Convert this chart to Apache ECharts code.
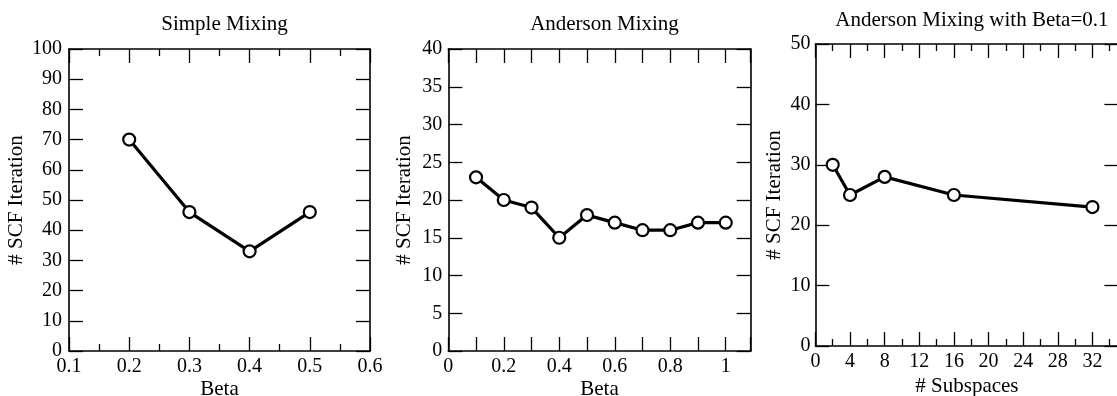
<!DOCTYPE html>
<html>
<head>
<meta charset="utf-8">
<script src="https://cdn.jsdelivr.net/npm/echarts@6/dist/echarts.min.js"></script>
<style>
  html, body { margin: 0; padding: 0; background: #fff; }
  #chart { width: 1117px; height: 396px; }
</style>
</head>
<body>
<div id="chart"></div>
<script>
// Panel titles
const panelTitles = ['Simple Mixing', 'Anderson Mixing', 'Anderson Mixing with Beta=0.1'];

// Simple mixing: iterations vs beta
const simpleBeta = [0.2, 0.3, 0.4, 0.5];
const simpleIter = [70, 46, 33, 46];

// Anderson mixing: iterations vs beta
const andersonBeta = [0.1, 0.2, 0.3, 0.4, 0.5, 0.6, 0.7, 0.8, 0.9, 1.0];
const andersonIter = [23, 20, 19, 15, 18, 17, 16, 16, 17, 17];

// Anderson mixing at beta 0.1: iterations vs number of subspaces
const subspaces = [2, 4, 8, 16, 32];
const subspaceIter = [30, 25, 28, 25, 23];

// Tick labels shown on the x axes
const simpleXLabels = ['0.1', '0.2', '0.3', '0.4', '0.5', '0.6'];
const andersonXLabels = ['0', '0.2', '0.4', '0.6', '0.8', '1'];
const subspaceXLabels = ['0', '4', '8', '12', '16', '20', '24', '28', '32'];

const FONT = 'Liberation Serif';
const INK = '#000';

function labelFrom(list) {
  return function (v) {
    const s = String(Number(v.toFixed(2)));
    return list.indexOf(s) >= 0 ? s : '';
  };
}

function xAxisPair(gridIndex, min, max, interval, minorSplit, labels, name, nameGap) {
  const tick = { show: true, inside: true, length: 14, lineStyle: { color: INK, width: 1.3 } };
  const minor = minorSplit
    ? { show: true, splitNumber: minorSplit, length: 7, lineStyle: { color: INK, width: 1.3 } }
    : { show: false };
  const common = {
    type: 'value', gridIndex, min, max, interval,
    axisLine: { show: true, onZero: false, lineStyle: { color: INK, width: 1.6 } },
    axisTick: tick, minorTick: minor, splitLine: { show: false }, minorSplitLine: { show: false }
  };
  return [
    Object.assign({}, common, {
      position: 'bottom',
      name, nameLocation: 'middle', nameGap, nameMoveOverlap: false,
      nameTextStyle: { fontFamily: FONT, fontSize: 21, color: INK },
      axisLabel: {
        show: true, margin: 6, fontFamily: FONT, fontSize: 20, color: INK,
        showMaxLabel: true, showMinLabel: true, formatter: labelFrom(labels)
      }
    }),
    Object.assign({}, common, { position: 'top', axisLabel: { show: false } })
  ];
}

function yAxisPair(gridIndex, max, interval, nameGap, margin) {
  const common = {
    type: 'value', gridIndex, min: 0, max, interval,
    axisLine: { show: true, onZero: false, lineStyle: { color: INK, width: 1.6 } },
    axisTick: { show: true, inside: true, length: 14, lineStyle: { color: INK, width: 1.3 } },
    splitLine: { show: false }
  };
  return [
    Object.assign({}, common, {
      position: 'left',
      name: '# SCF Iteration', nameLocation: 'middle', nameGap, nameMoveOverlap: false,
      nameTextStyle: { fontFamily: FONT, fontSize: 21, color: INK },
      axisLabel: { show: true, margin, fontFamily: FONT, fontSize: 20, color: INK }
    }),
    Object.assign({}, common, { position: 'right', axisLabel: { show: false } })
  ];
}

function lineSeries(idx, xs, ys) {
  return {
    type: 'line',
    xAxisIndex: idx * 2, yAxisIndex: idx * 2,
    data: xs.map((x, i) => [x, ys[i]]),
    symbol: 'circle', symbolSize: 12,
    itemStyle: { color: '#fff', borderColor: INK, borderWidth: 2.2 },
    lineStyle: { color: INK, width: 3.2 },
    emphasis: { disabled: true },
    z: 3
  };
}

const grids = [
  { left: 69, top: 49, width: 301, height: 302, outerBoundsMode: 'none', containLabel: false },
  { left: 448.3, top: 49, width: 302.4, height: 302, outerBoundsMode: 'none', containLabel: false },
  { left: 815.4, top: 44, width: 303, height: 302, outerBoundsMode: 'none', containLabel: false }
];

const titleTops = [9, 9, 5];
const titles = panelTitles.map((t, i) => ({
  text: t,
  left: grids[i].left + grids[i].width / 2,
  top: titleTops[i],
  textAlign: 'center',
  textStyle: { fontFamily: FONT, fontSize: 21, fontWeight: 'normal', color: INK }
}));

const option = {
  animation: false,
  backgroundColor: '#fff',
  title: titles,
  grid: grids,
  xAxis: [
    ...xAxisPair(0, 0.1, 0.6, 0.1, 2, simpleXLabels, 'Beta', 28),
    ...xAxisPair(1, 0, 1.09, 0.1, 0, andersonXLabels, 'Beta', 28),
    ...xAxisPair(2, 0, 35, 4, 2, subspaceXLabels, '# Subspaces', 30)
  ],
  yAxis: [
    ...yAxisPair(0, 100, 10, 42, 7),
    ...yAxisPair(1, 40, 5, 33, 6),
    ...yAxisPair(2, 50, 10, 30, 5)
  ],
  series: [
    lineSeries(0, simpleBeta, simpleIter),
    lineSeries(1, andersonBeta, andersonIter),
    lineSeries(2, subspaces, subspaceIter)
  ]
};

const chart = echarts.init(document.getElementById('chart'), null, { renderer: 'canvas' });
chart.setOption(option);
</script>
</body>
</html>
